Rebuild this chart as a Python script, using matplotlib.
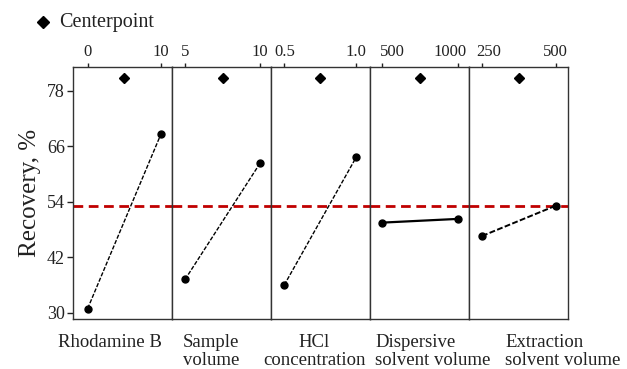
import matplotlib
matplotlib.use('Agg')
import matplotlib.pyplot as plt
import matplotlib.transforms as mtransforms
from matplotlib.lines import Line2D

plt.rcParams['font.family'] = ['Liberation Serif', 'DejaVu Serif']

# factor names and levels
factors = ['Rhodamine B', 'Sample\nvolume', 'HCl\nconcentration',
           'Dispersive\nsolvent volume', 'Extraction\nsolvent volume']
low_levels = [0, 5, 0.5, 500, 250]
high_levels = [10, 10, 1.0, 1000, 500]
center_levels = [5, 7.5, 0.75, 750, 375]
level_labels = [['0', '10'], ['5', '10'], ['0.5', '1.0'], ['500', '1000'], ['250', '500']]

# mean recovery (%) at low / high level
low_means = [30.9, 37.2, 36.0, 49.5, 46.6]
high_means = [68.7, 62.4, 63.7, 50.3, 53.2]
center_mean = 80.8
grand_mean = 53.2

# layout
xlims = [(-1.96, 11.54), (4.15, 10.74), (0.41, 1.097), (420, 1078), (207, 541)]
line_styles = [(0, (3, 1.2)), (0, (3, 1.2)), (0, (3, 1.2)), '-', (0, (3, 1.2))]
line_widths = [1.0, 1.0, 1.0, 1.6, 1.4]
label_x = [110, 183, 314, 375, 505]          # pixel positions of the factor names
label_ha = ['center', 'left', 'center', 'left', 'left']
tick_shift = [[0, 0], [0, 0], [1, 0], [10, -8], [7, -1]]   # px shift of top tick labels

W, H = 627, 369
fig = plt.figure(figsize=(W / 100, H / 100), dpi=100)
left, right, bottom, top = 73.3 / W, 568.3 / W, 1 - 319.3 / H, 1 - 66.7 / H
pw = (right - left) / len(factors)

for i in range(len(factors)):
    ax = fig.add_axes([left + i * pw, bottom, pw, top - bottom])
    ax.set_xlim(*xlims[i])
    ax.set_ylim(28.57, 83.25)
    ax.axhline(grand_mean, color='#c00000', lw=2.0, ls=(0, (3.5, 2)), zorder=1)
    ax.plot([low_levels[i], high_levels[i]], [low_means[i], high_means[i]],
            color='black', lw=line_widths[i], ls=line_styles[i], zorder=2)
    ax.plot([low_levels[i], high_levels[i]], [low_means[i], high_means[i]],
            'o', color='black', ms=5, zorder=3)
    ax.plot([center_levels[i]], [center_mean], 'D', color='black', ms=5, zorder=3)

    ax.xaxis.tick_top()
    ax.set_xticks([low_levels[i], high_levels[i]])
    ax.set_xticklabels(level_labels[i])
    ax.tick_params(axis='x', top=True, bottom=False, length=3, width=1,
                   labelsize=12, pad=2, colors='#222222')
    for lab, dx in zip(ax.get_xticklabels(), tick_shift[i]):
        lab.set_transform(lab.get_transform() +
                          mtransforms.ScaledTranslation(dx / 100, 0, fig.dpi_scale_trans))
    if i == 0:
        ax.set_yticks([30, 42, 54, 66, 78])
        ax.tick_params(axis='y', length=4, width=1, labelsize=13, pad=2, colors='#222222')
        ax.set_ylabel('Recovery, %', fontsize=18, color='#222222', labelpad=4)
    else:
        ax.set_yticks([])
    for s in ax.spines.values():
        s.set_linewidth(1.0)
        s.set_color('#333333')

    fig.text(label_x[i] / W, 1 - 334 / H, factors[i], ha=label_ha[i], va='top',
             multialignment=label_ha[i], fontsize=13.5, color='#222222', linespacing=1.05)

# legend for centerpoint
fig.add_artist(Line2D([43 / W], [1 - 22 / H], marker='D', color='black', ms=6,
                      ls='none', transform=fig.transFigure))
fig.text(59 / W, 1 - 22 / H, 'Centerpoint', ha='left', va='center', fontsize=14.5,
         color='#222222')

fig.savefig('out.png', dpi=100)
